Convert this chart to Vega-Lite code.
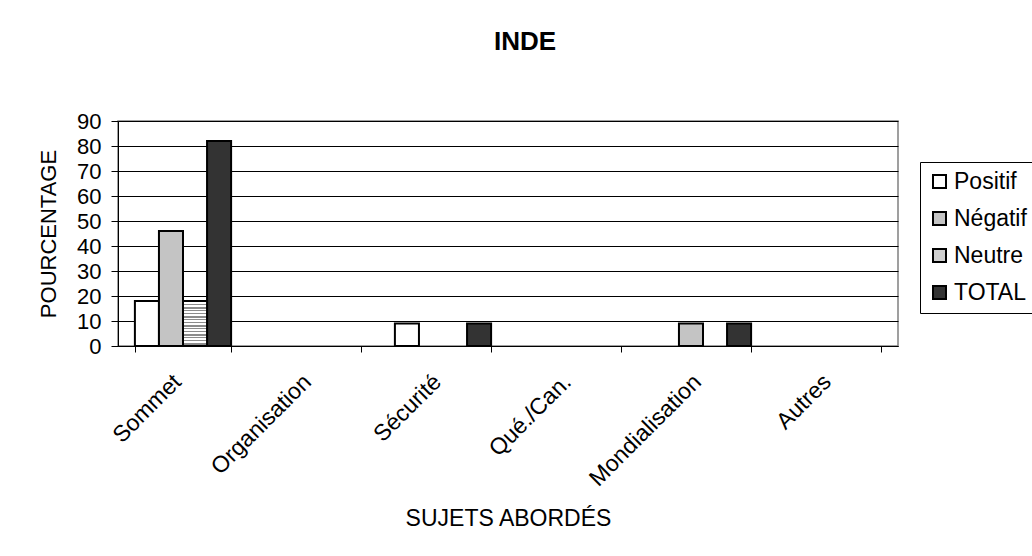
{
  "$schema": "https://vega.github.io/schema/vega-lite/v6.json",
  "width": 780,
  "height": 225,
  "autosize": "none",
  "padding": {"left": 118, "top": 121, "right": 134, "bottom": 210},
  "background": "white",
  "title": {"text": "INDE", "font": "Liberation Sans", "fontSize": 26, "fontWeight": "bold", "color": "black", "anchor": "middle", "offset": 55, "dx": 17},
  "config": {
    "font": "Liberation Sans",
    "view": {"stroke": "#808080", "strokeWidth": 1.5}
  },
  "data": {
    "values": [
      {"sujet": "Sommet", "serie": "Positif", "pct": 18},
      {"sujet": "Sommet", "serie": "Négatif", "pct": 46},
      {"sujet": "Sommet", "serie": "Neutre", "pct": 18},
      {"sujet": "Sommet", "serie": "TOTAL", "pct": 82},
      {"sujet": "Sécurité", "serie": "Positif", "pct": 9},
      {"sujet": "Sécurité", "serie": "TOTAL", "pct": 9},
      {"sujet": "Mondialisation", "serie": "Négatif", "pct": 9},
      {"sujet": "Mondialisation", "serie": "TOTAL", "pct": 9}
    ]
  },
  "encoding": {
    "x": {
      "field": "sujet", "type": "nominal",
      "scale": {"domain": ["Sommet", "Organisation", "Sécurité", "Qué./Can.", "Mondialisation", "Autres"], "paddingInner": 0.26, "paddingOuter": 0.13},
      "axis": {
        "title": "SUJETS ABORDÉS", "titleFont": "Liberation Sans", "titleFontSize": 23, "titleFontWeight": "normal", "titleColor": "black", "titleY": 172, "titleBaseline": "middle",
        "labelAngle": -45, "labelAlign": "right", "labelBaseline": "middle", "labelFontSize": 23, "labelColor": "black", "labelFont": "Liberation Sans",
        "tickBand": "extent", "tickColor": "black", "domainColor": "black", "tickSize": 6, "labelPadding": 26, "labelOffset": -6
      }
    },
    "xOffset": {"field": "serie", "type": "nominal", "scale": {"domain": ["Positif", "Négatif", "Neutre", "TOTAL"], "paddingInner": 0}},
    "y": {
      "field": "pct", "type": "quantitative",
      "scale": {"domain": [0, 90], "nice": false},
      "axis": {
        "title": "POURCENTAGE", "titleFont": "Liberation Sans", "titleFontSize": 22, "titleFontWeight": "normal", "titleColor": "black",
        "values": [0, 10, 20, 30, 40, 50, 60, 70, 80, 90],
        "labelFontSize": 22, "labelColor": "black", "labelFont": "Liberation Sans",
        "grid": true, "gridColor": "black", "gridWidth": 1,
        "tickColor": "black", "domainColor": "black", "tickSize": 7, "labelPadding": 10, "titlePadding": 16
      }
    }
  },
  "layer": [
    {
      "mark": {"type": "bar", "stroke": "black", "strokeWidth": 2},
      "encoding": {
        "fill": {
          "field": "serie", "type": "nominal",
          "scale": {"domain": ["Positif", "Négatif", "Neutre", "TOTAL"], "range": ["#ffffff", "#c4c4c4", "#cfcfcf", "#333333"]},
          "legend": {
            "title": null, "orient": "none", "legendX": 802, "legendY": 41,
            "symbolType": "square", "symbolSize": 169, "symbolStrokeColor": "black", "symbolStrokeWidth": 2,
            "labelFontSize": 23, "labelColor": "black", "labelFont": "Liberation Sans",
            "rowPadding": 13, "padding": 8, "strokeColor": "black", "labelOffset": 3
          }
        }
      }
    },
    {
      "transform": [{"filter": "datum.serie === 'Neutre'"}],
      "mark": {
        "type": "bar", "stroke": "black", "strokeWidth": 2,
        "fill": {
          "gradient": "linear", "x1": 0, "y1": 0, "x2": 0, "y2": 1,
          "stops": [
            {"offset": 0, "color": "#8c8c8c"}, {"offset": 0.033, "color": "#8c8c8c"}, {"offset": 0.033, "color": "#ffffff"}, {"offset": 0.067, "color": "#ffffff"},
            {"offset": 0.067, "color": "#8c8c8c"}, {"offset": 0.1, "color": "#8c8c8c"}, {"offset": 0.1, "color": "#ffffff"}, {"offset": 0.133, "color": "#ffffff"},
            {"offset": 0.133, "color": "#8c8c8c"}, {"offset": 0.167, "color": "#8c8c8c"}, {"offset": 0.167, "color": "#ffffff"}, {"offset": 0.2, "color": "#ffffff"},
            {"offset": 0.2, "color": "#8c8c8c"}, {"offset": 0.233, "color": "#8c8c8c"}, {"offset": 0.233, "color": "#ffffff"}, {"offset": 0.267, "color": "#ffffff"},
            {"offset": 0.267, "color": "#8c8c8c"}, {"offset": 0.3, "color": "#8c8c8c"}, {"offset": 0.3, "color": "#ffffff"}, {"offset": 0.333, "color": "#ffffff"},
            {"offset": 0.333, "color": "#8c8c8c"}, {"offset": 0.367, "color": "#8c8c8c"}, {"offset": 0.367, "color": "#ffffff"}, {"offset": 0.4, "color": "#ffffff"},
            {"offset": 0.4, "color": "#8c8c8c"}, {"offset": 0.433, "color": "#8c8c8c"}, {"offset": 0.433, "color": "#ffffff"}, {"offset": 0.467, "color": "#ffffff"},
            {"offset": 0.467, "color": "#8c8c8c"}, {"offset": 0.5, "color": "#8c8c8c"}, {"offset": 0.5, "color": "#ffffff"}, {"offset": 0.533, "color": "#ffffff"},
            {"offset": 0.533, "color": "#8c8c8c"}, {"offset": 0.567, "color": "#8c8c8c"}, {"offset": 0.567, "color": "#ffffff"}, {"offset": 0.6, "color": "#ffffff"},
            {"offset": 0.6, "color": "#8c8c8c"}, {"offset": 0.633, "color": "#8c8c8c"}, {"offset": 0.633, "color": "#ffffff"}, {"offset": 0.667, "color": "#ffffff"},
            {"offset": 0.667, "color": "#8c8c8c"}, {"offset": 0.7, "color": "#8c8c8c"}, {"offset": 0.7, "color": "#ffffff"}, {"offset": 0.733, "color": "#ffffff"},
            {"offset": 0.733, "color": "#8c8c8c"}, {"offset": 0.767, "color": "#8c8c8c"}, {"offset": 0.767, "color": "#ffffff"}, {"offset": 0.8, "color": "#ffffff"},
            {"offset": 0.8, "color": "#8c8c8c"}, {"offset": 0.833, "color": "#8c8c8c"}, {"offset": 0.833, "color": "#ffffff"}, {"offset": 0.867, "color": "#ffffff"},
            {"offset": 0.867, "color": "#8c8c8c"}, {"offset": 0.9, "color": "#8c8c8c"}, {"offset": 0.9, "color": "#ffffff"}, {"offset": 0.933, "color": "#ffffff"},
            {"offset": 0.933, "color": "#8c8c8c"}, {"offset": 0.967, "color": "#8c8c8c"}, {"offset": 0.967, "color": "#ffffff"}, {"offset": 1, "color": "#ffffff"}
          ]
        }
      }
    }
  ]
}
